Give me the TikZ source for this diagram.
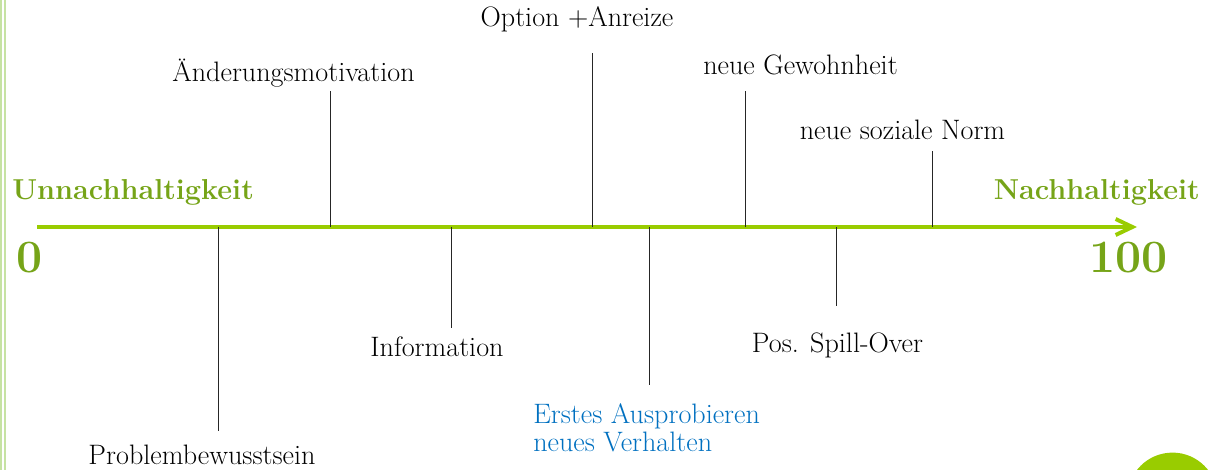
\documentclass[tikz,border=0pt]{standalone}
\usepackage{tikz}
\usetikzlibrary{arrows.meta}
\definecolor{axisgreen}{RGB}{153,204,0}
\definecolor{labelgreen}{RGB}{118,164,24}
\definecolor{stripegreen}{RGB}{198,226,162}
\definecolor{trialblue}{RGB}{0,112,192}

\begin{document}
\begin{tikzpicture}[
    stage/.style={anchor=base,inner sep=0pt,font=\fontsize{20}{22}\selectfont},
    pole/.style={inner sep=0pt,text=labelgreen,font=\fontsize{20.5}{24}\selectfont\bfseries},
    score/.style={pole,font=\fontsize{33}{36}\selectfont\bfseries},
    stem/.style={line width=0.7pt,black!85}]
  \useasboundingbox (0,0) rectangle (30.275,11.75);
  % slide margin
  \draw[stripegreen,line width=1.4pt] (0.025,0) -- (0.025,11.75);
  \draw[stripegreen,line width=1.4pt] (0.125,0) -- (0.125,11.75);
  \begin{scope}
    \clip (0,0) rectangle (30.275,11.75);
    \fill[axisgreen] (29.3125,-0.69) circle (1.125);
  \end{scope}
  % the scale from 0 to 100
  \coordinate (start) at (0.925,6.075);
  \coordinate (end) at (28.425,6.075);
  \draw[axisgreen,line width=2.8pt,-{Straight Barb[length=0.42cm,width=0.4cm]}] (start) -- (end);
  \node[pole,anchor=base west] (unsust) at (0.3,6.75) {Unnachhaltigkeit};
  \node[pole,anchor=base east] (sust) at (30,6.75) {Nachhaltigkeit};
  \node[score,anchor=base] (zero) at (0.75,4.925) {0};
  \node[score,anchor=base east] (hundred) at (29.2,4.925) {100};
  % stems: axis point -> free end
  \foreach \name/\x/\y in {prob/5.45/0.975,motiv/8.25/9.475,info/11.275/3.55,
      option/14.8/10.425,trial/16.225/2.125,habit/18.625/9.475,
      spill/20.9/4.1,norm/23.3/7.975}{
    \coordinate (a-\name) at (\x,6.075);
    \coordinate (e-\name) at (\x,\y);
    \draw[stem] (a-\name) -- (e-\name);
  }
  % stages
  \node[stage] (prob) at (5.05,0.14) {Problembewusstsein};
  \node[stage] (motiv) at (7.3375,9.7) {Änderungsmotivation};
  \node[stage] (info) at (10.925,2.825) {Information};
  \node[stage] (option) at (14.425,11.075) {Option +Anreize};
  \node[stage,anchor=north west,align=left,text=trialblue,
        font=\fontsize{20}{19.9}\selectfont] (trial) at (13.325,1.66)
        {Erstes Ausprobieren\\neues Verhalten};
  \node[stage] (habit) at (20.0125,9.875) {neue Gewohnheit};
  \node[stage] (spill) at (20.9375,2.925) {Pos. Spill-Over};
  \node[stage] (norm) at (22.5625,8.25) {neue soziale Norm};
\end{tikzpicture}
\end{document}
